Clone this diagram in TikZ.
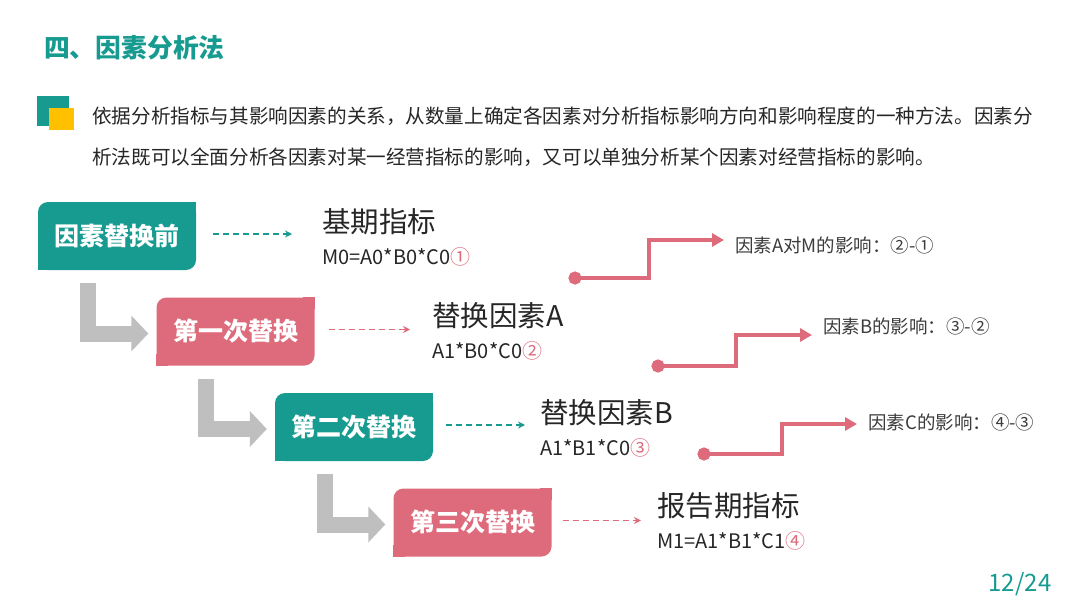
\documentclass[tikz,border=0pt]{standalone}
\usepackage{fontspec}
\newfontfamily\cjk{Noto Sans CJK SC}
\usetikzlibrary{arrows.meta,positioning}
\definecolor{teal1}{HTML}{179B91}
\definecolor{rose1}{HTML}{DE6B7B}
\definecolor{gray1}{HTML}{BFBFBF}
\definecolor{gold1}{HTML}{FFC000}
\definecolor{ink}{HTML}{262626}

\begin{document}
\begin{tikzpicture}
[x=1pt,y=-1pt,font=\cjk,
  boxDecorate/.style={rounded corners=10pt,minimum width=158pt,minimum height=68pt,
    inner sep=0pt,text=white,font=\cjk\bfseries\fontsize{25}{30}\selectfont},
  headDecorate/.style={anchor=west,inner sep=0pt,text=ink,font=\cjk\fontsize{28.5}{34}\selectfont},
  formDecorate/.style={anchor=west,inner sep=0pt,text=ink,font=\cjk\fontsize{20}{24}\selectfont},
  noteDecorate/.style={anchor=west,inner sep=0pt,text=ink!90,font=\cjk\fontsize{18.5}{22}\selectfont},
  textDecorate/.style={anchor=west,inner sep=0pt,text=ink,font=\cjk\fontsize{19.6}{24}\selectfont},
  dashDecorate/.style={dash pattern=on 6pt off 4pt,line width=1.8pt,-{Stealth[length=7pt,width=7pt]}},
  bendDecorate/.style={line width=16pt,gray1,line join=miter,-{Triangle[length=17pt,width=35pt]}},
  stairDecorate/.style={line width=4pt,rose1,{Circle[length=13pt]}-{Triangle[length=12pt,width=13pt]}}]
\useasboundingbox[fill=white] (0,0) rectangle (1080,608);
%% heading and text
\node (title) at (44,48) [anchor=west,inner sep=0pt,text=teal1,font=\cjk\bfseries\fontsize{25.8}{30}\selectfont] {四、因素分析法};
\fill[teal1] (37,96) rectangle (69,126);
\fill[gold1] (49,108) rectangle (74,130);
\node (p0) at (92,116) [textDecorate] {依据分析指标与其影响因素的关系，从数量上确定各因素对分析指标影响方向和影响程度的一种方法。因素分};
\node (p1) at (92,157) [textDecorate] {析法既可以全面分析各因素对某一经营指标的影响，又可以单独分析某个因素对经营指标的影响。};
%% boxes
\foreach \nodename/\x/\y/\fillcolor/\txt in {
  b0/117/236/teal1/因素替换前, b1/235.5/331.5/rose1/第一次替换,
  b2/354/427/teal1/第二次替换, b3/472.5/522.5/rose1/第三次替换}
{
  \node (\nodename) at (\x,\y) [boxDecorate,fill=\fillcolor] {\txt};
  \fill[\fillcolor] (\nodename.north east) rectangle ++(-12pt,-12pt);
  \fill[\fillcolor] (\nodename.south west) rectangle ++(12pt,12pt);
}
%% results
\foreach \nodename/\x/\y/\head/\form in {
  0/322/222/基期指标/M0=A0*B0*C0\textcolor{rose1}{①},
  1/432/316/替换因素A/A1*B0*C0\textcolor{rose1}{②},
  2/540/413/替换因素B/A1*B1*C0\textcolor{rose1}{③},
  3/657/506/报告期指标/M1=A1*B1*C1\textcolor{rose1}{④}}
{
  \node (t\nodename) at (\x,\y) [headDecorate] {\head};
  \node (f\nodename) at (\x,\y+35) [formDecorate] {\form};
}
%% edges
\foreach \startnode/\endnode/\linecolor/\s/\e in {
  b0/t0/teal1/17/30, b1/t1/rose1/14/22, b2/t2/teal1/13/15, b3/t3/rose1/11/16}
{
  \draw[dashDecorate,\linecolor,shorten <=\s pt,shorten >=\e pt]
    ([yshift=2pt]\startnode.east) -- ([yshift=2pt]\startnode.east -| \endnode.west);
}
\foreach \startnode/\endnode in {b0/b1, b1/b2, b2/b3}
{
  \draw[bendDecorate] ([xshift=50pt,yshift=-13pt]\startnode.south west)
    |- ([xshift=-8pt,yshift=-2pt]\endnode.west);
}
%% differences
\foreach \nodename/\sx/\sy/\run/\lx/\ly/\lift/\txt in {
  0/568.5/278/80.5/735/245/5/因素A对M的影响：②-①,
  1/651.5/366/84.5/823/326/-9/因素B的影响：③-②,
  2/697.5/454/84.5/868/422/-2/因素C的影响：④-③}
{
  \coordinate (s\nodename) at (\sx,\sy);
  \node (l\nodename) at (\lx,\ly) [noteDecorate] {\txt};
  \draw[stairDecorate] (s\nodename) -- ++(\run,0)
    |- ([xshift=-11pt,yshift=\lift pt]l\nodename.west);
}
\node (page) at (1020,584) [inner sep=0pt,text=teal1,font=\cjk\fontsize{24}{28}\selectfont] {12/24};
\end{tikzpicture}
\end{document}
